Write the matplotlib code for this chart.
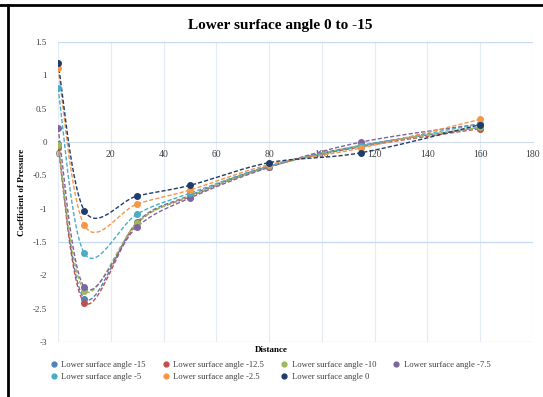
import numpy as np
import matplotlib
matplotlib.use("Agg")
import matplotlib.pyplot as plt
from matplotlib.lines import Line2D

distance = [0, 10, 30, 50, 80, 115, 160]
labels = ["Lower surface angle -15", "Lower surface angle -12.5", "Lower surface angle -10",
          "Lower surface angle -7.5", "Lower surface angle -5", "Lower surface angle -2.5",
          "Lower surface angle 0"]
cp_m15 = [-0.03, -2.35, -1.20, -0.80, -0.36, -0.05, 0.22]
cp_m125 = [-0.07, -2.41, -1.22, -0.82, -0.37, -0.07, 0.20]
cp_m10 = [-0.05, -2.23, -1.21, -0.81, -0.37, -0.05, 0.22]
cp_m75 = [0.21, -2.18, -1.27, -0.84, -0.38, 0.00, 0.27]
cp_m5 = [0.81, -1.67, -1.08, -0.77, -0.36, -0.06, 0.27]
cp_m25 = [1.11, -1.25, -0.93, -0.72, -0.34, -0.09, 0.34]
cp_0 = [1.19, -1.03, -0.81, -0.65, -0.31, -0.16, 0.26]
series = [cp_m15, cp_m125, cp_m10, cp_m75, cp_m5, cp_m25, cp_0]
colors = ["#4F81BD", "#C0504D", "#9BBB59", "#8064A2", "#4BACC6", "#F79646", "#1F3D6B"]
x_ticks = [0, 20, 40, 60, 80, 100, 120, 140, 160, 180]
y_ticks = [1.5, 1, 0.5, 0, -0.5, -1, -1.5, -2, -2.5, -3]

W, H = 543, 397
fig = plt.figure(figsize=(W / 100, H / 100), dpi=100)
fig.patch.set_facecolor("white")
serif = ["Liberation Serif", "DejaVu Serif"]

ax_l, ax_r, ax_t, ax_b = 58, 533, 42, 342
ax = fig.add_axes([ax_l / W, 1 - ax_b / H, (ax_r - ax_l) / W, (ax_b - ax_t) / H])
ax.set_xlim(0, 180)
ax.set_ylim(-3, 1.5)

sx = (ax_r - ax_l) / 180.0
sy = (ax_b - ax_t) / 4.5


def smooth(xs, ys, n=30):
    P = np.column_stack([np.array(xs, float) * sx, np.array(ys, float) * sy])
    P = np.vstack([P[0], P, P[-1]])
    out = []
    for i in range(1, len(P) - 2):
        p0, p1, p2, p3 = P[i - 1], P[i], P[i + 1], P[i + 2]
        b1 = p1 + (p2 - p0) / 6.0
        b2 = p2 - (p3 - p1) / 6.0
        t = np.linspace(0, 1, n)[:, None]
        seg = ((1 - t) ** 3) * p1 + 3 * ((1 - t) ** 2) * t * b1 + 3 * (1 - t) * t ** 2 * b2 + t ** 3 * p2
        out.append(seg if i == 1 else seg[1:])
    out = np.vstack(out)
    return out[:, 0] / sx, out[:, 1] / sy


for ys, c in zip(series, colors):
    cx, cy = smooth(distance, ys)
    ax.plot(cx, cy, color=c, lw=1.0, ls=(0, (3, 1.5)), zorder=3)
    ax.plot(distance, ys, 'o', color=c, ms=4, zorder=4)

# grid
for xv in x_ticks:
    ax.axvline(xv, color="#E3EBF6", lw=0.8, zorder=1)
for yv in [1.5, -1.5, -3]:
    ax.axhline(yv, color="#C6D9F1", lw=0.9, zorder=1)

for s in ["top", "right", "left", "bottom"]:
    ax.spines[s].set_visible(False)
ax.spines["bottom"].set_visible(True)
ax.spines["bottom"].set_position(("data", 0))
ax.spines["bottom"].set_color("#D0DCEC")
ax.spines["bottom"].set_linewidth(0.8)

ax.set_xticks(x_ticks)
ax.set_xticklabels([str(v) for v in x_ticks], fontfamily=serif, fontsize=7, color="#404040")
ax.set_yticks(y_ticks)
ax.set_yticklabels(["%g" % v for v in y_ticks], fontfamily=serif, fontsize=6.5, color="#404040")
ax.tick_params(axis="both", length=0)
ax.tick_params(axis="x", pad=6)
ax.tick_params(axis="y", pad=8)

fig.text(271 / W, 1 - 350 / H, "Distance", fontfamily=serif, fontsize=6.5, fontweight="bold",
         ha="center", va="center")
fig.text(22 / W, 1 - 192 / H, "Coefficient of Pressure", fontfamily=serif, fontsize=6.5,
         fontweight="bold", ha="center", va="center", rotation=90)
fig.text(280 / W, 1 - 25 / H, "Lower surface angle 0 to -15", fontfamily=serif, fontsize=11,
         fontweight="bold", ha="center", va="center")

# legend entries ordered so rows read left to right
order = [0, 4, 1, 5, 2, 6, 3]
handles = [Line2D([], [], ls="none", marker="o", ms=3.5, color=colors[i]) for i in order]
leg_labels = [labels[i] for i in order]
leg = fig.legend(handles, leg_labels, loc="center", bbox_to_anchor=(270 / W, 1 - 371 / H), ncol=4,
                 frameon=False, prop={"family": serif, "size": 6.2}, handletextpad=0.4,
                 columnspacing=1.8, labelspacing=0.5, handlelength=1.0)
for t in leg.get_texts():
    t.set_color("#404040")

# screenshot frame
fig.add_artist(Line2D([0, 1], [1 - 5 / H, 1 - 5 / H], transform=fig.transFigure, color="black", lw=2))
fig.add_artist(Line2D([8 / W, 8 / W], [0, 1 - 5 / H], transform=fig.transFigure, color="black", lw=2))

fig.savefig("out.png", dpi=100)
